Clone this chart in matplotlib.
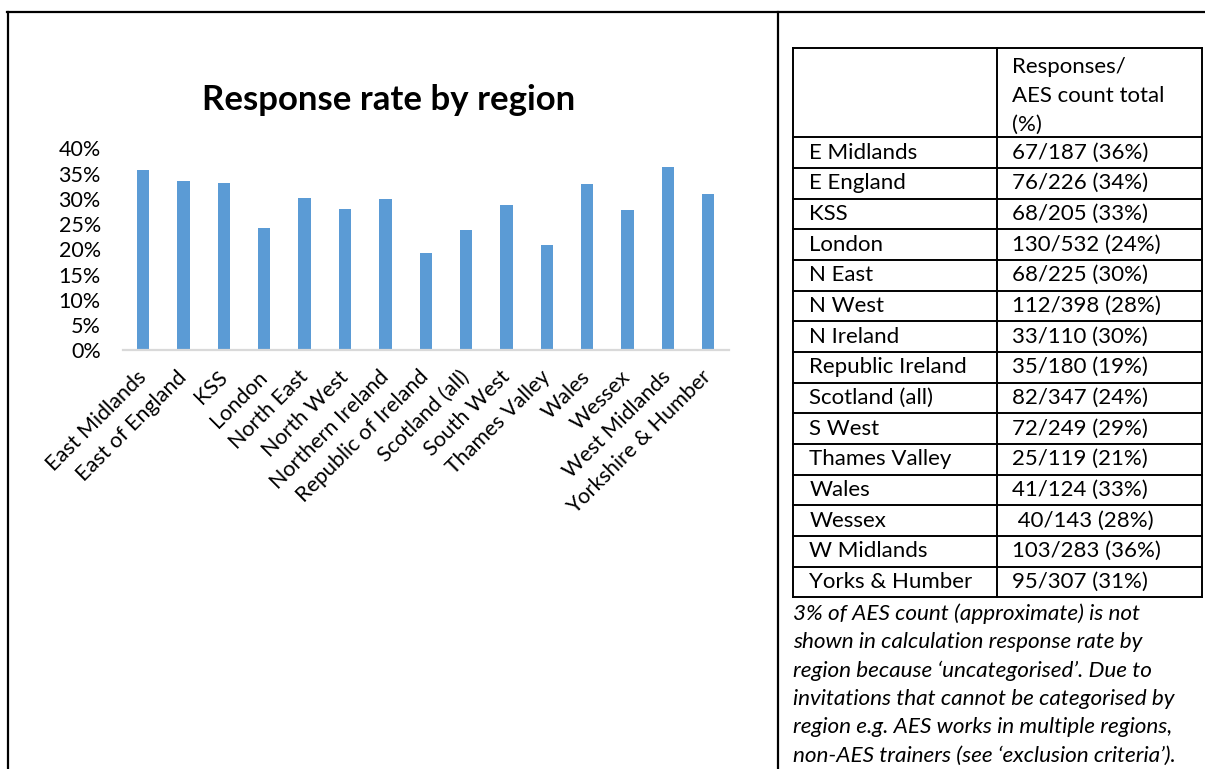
import matplotlib

matplotlib.use("Agg")
import matplotlib.pyplot as plt  # noqa: E402
from matplotlib.ticker import PercentFormatter  # noqa: E402

plt.rcParams["font.family"] = ["Lato", "DejaVu Sans"]

regions = [
    "East Midlands", "East of England", "KSS", "London", "North East",
    "North West", "Northern Ireland", "Republic of Ireland", "Scotland (all)",
    "South West", "Thames Valley", "Wales", "Wessex", "West Midlands",
    "Yorkshire & Humber",
]
rates = [0.358, 0.335, 0.331, 0.243, 0.301, 0.280, 0.299, 0.193, 0.238,
         0.288, 0.209, 0.330, 0.278, 0.363, 0.309]

table_labels = [
    "E Midlands", "E England", "KSS", "London", "N East", "N West",
    "N Ireland", "Republic Ireland", "Scotland (all)", "S West",
    "Thames Valley", "Wales", "Wessex", "W Midlands", "Yorks & Humber",
]
table_values = [
    "67/187 (36%)", "76/226 (34%)", "68/205 (33%)", "130/532 (24%)",
    "68/225 (30%)", "112/398 (28%)", "33/110 (30%)", "35/180 (19%)",
    "82/347 (24%)", "72/249 (29%)", "25/119 (21%)", "41/124 (33%)",
    " 40/143 (28%)", "103/283 (36%)", "95/307 (31%)",
]
header_lines = ["Responses/", "AES count total", "(%)"]
note_lines = [
    "3% of AES count (approximate) is not",
    "shown in calculation response rate by",
    "region because \u2018uncategorised\u2019. Due to",
    "invitations that cannot be categorised by",
    "region e.g. AES works in multiple regions,",
    "non-AES trainers (see \u2018exclusion criteria\u2019).",
]

W, H = 1205, 769
fig = plt.figure(figsize=(W / 100, H / 100), dpi=100)

# page overlay in pixel coordinates
page = fig.add_axes([0, 0, 1, 1])
page.set_xlim(0, W)
page.set_ylim(H, 0)
page.axis("off")

page.plot([7, W], [12, 12], color="black", lw=1.6)
page.plot([7.5, 7.5], [12, H], color="black", lw=1.6)
page.plot([778, 778], [12, H], color="black", lw=1.6)

# bar chart
ax = fig.add_axes([123 / W, 1 - 350.3 / H, (728.5 - 123) / W, (350.3 - 148.3) / H])
ax.bar(range(len(rates)), rates, width=0.305, color="#5B9BD5")
ax.set_xlim(-0.5, len(rates) - 0.5)
ax.set_ylim(0, 0.4)
ax.set_yticks([i * 0.05 for i in range(9)])
ax.yaxis.set_major_formatter(PercentFormatter(1.0, decimals=0))
ax.set_xticks(range(len(regions)))
ax.set_xticklabels(regions, rotation=45, ha="right", va="center",
                   rotation_mode="anchor", fontsize=15.5)
ax.tick_params(axis="both", length=0, labelsize=15.5)
ax.tick_params(axis="y", pad=16)
ax.tick_params(axis="x", pad=17)
for side in ["top", "right", "left"]:
    ax.spines[side].set_visible(False)
ax.spines["bottom"].set_color("#D9D9D9")
ax.spines["bottom"].set_linewidth(1.6)
ax.set_facecolor("none")

page.text(389, 110, "Response rate by region", ha="center", va="baseline",
          fontsize=25, fontweight="bold")

# table
left, mid, right = 793.3, 997.3, 1201.7
top, head_bottom, row_h = 48, 137.3, 30.67
n = len(table_labels)
bottom = head_bottom + n * row_h
lw = 1.4
page.plot([left, right], [top, top], color="black", lw=lw)
for i in range(n + 1):
    y = head_bottom + i * row_h
    page.plot([left, right], [y, y], color="black", lw=lw)
for x in (left, mid, right):
    page.plot([x, x], [top, bottom], color="black", lw=lw)

for i, line in enumerate(header_lines):
    page.text(1012.3, 67 + i * 28.8, line, va="center", fontsize=16)

for i, (lab, val) in enumerate(zip(table_labels, table_values)):
    yc = head_bottom + (i + 0.5) * row_h
    page.text(809.3, yc, lab, va="center", fontsize=16)
    page.text(1012.3, yc, val, va="center", fontsize=16)

for i, line in enumerate(note_lines):
    page.text(793, 614 + i * 28.3, line, va="center", fontsize=16.2, style="italic")

fig.savefig("out.png", dpi=100)
